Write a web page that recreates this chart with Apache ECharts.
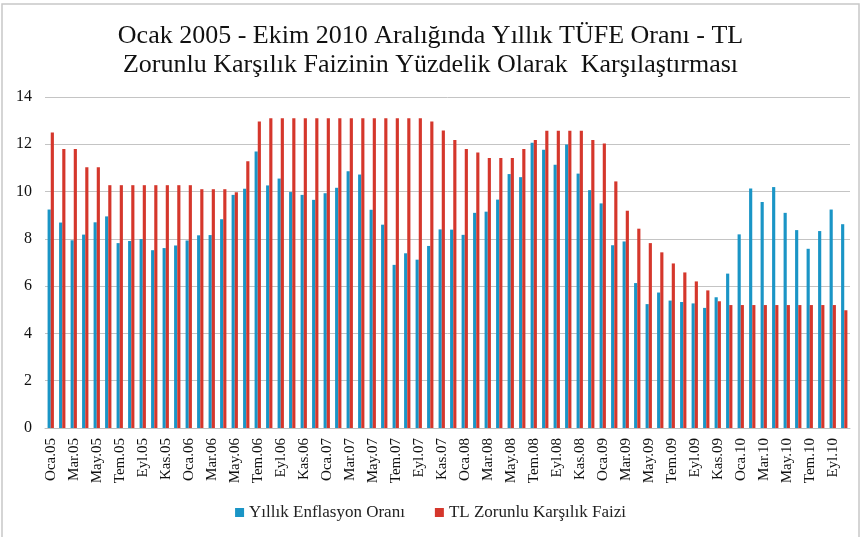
<!DOCTYPE html>
<html>
<head>
<meta charset="utf-8">
<script src="https://cdn.jsdelivr.net/npm/echarts@6/dist/echarts.min.js"></script>
<style>
  html, body { margin: 0; padding: 0; background: #ffffff; }
  #chart { width: 861px; height: 537px; }
</style>
</head>
<body>
<div id="chart"></div>
<script>
const monthNames = ['Oca', 'Şub', 'Mar', 'Nis', 'May', 'Haz', 'Tem', 'Ağu', 'Eyl', 'Eki', 'Kas', 'Ara'];
const years = ['05', '06', '07', '08', '09', '10'];

// Oca.05 - Eki.10 (70 ay)
const months = [];
years.forEach(y => {
  monthNames.forEach(m => {
    if (months.length < 70) months.push(m + '.' + y);
  });
});

// yıllık TÜFE (%)
const inflation = [
  9.24, 8.69, 7.94, 8.18, 8.70, 8.95, 7.82, 7.91, 7.99, 7.52, 7.61, 7.72,
  7.93, 8.15, 8.16, 8.83, 9.86, 10.12, 11.69, 10.26, 10.55, 9.98, 9.86, 9.65,
  9.93, 10.16, 10.86, 10.72, 9.23, 8.60, 6.90, 7.39, 7.12, 7.70, 8.40, 8.39,
  8.17, 9.10, 9.15, 9.66, 10.74, 10.61, 12.06, 11.77, 11.13, 11.99, 10.76, 10.06,
  9.50, 7.73, 7.89, 6.13, 5.24, 5.73, 5.39, 5.33, 5.27, 5.08, 5.53, 6.53,
  8.19, 10.13, 9.56, 10.19, 9.10, 8.37, 7.58, 8.33, 9.24, 8.62
];

// TL zorunlu karşılık faizi (%)
const reserveRate = [
  12.5, 11.8, 11.8, 11.03, 11.03, 10.27, 10.27, 10.27, 10.27, 10.27, 10.27, 10.27,
  10.27, 10.1, 10.1, 10.1, 9.97, 11.28, 12.96, 13.1, 13.1, 13.1, 13.1, 13.1,
  13.1, 13.1, 13.1, 13.1, 13.1, 13.1, 13.1, 13.1, 13.1, 12.96, 12.58, 12.18,
  11.8, 11.65, 11.42, 11.42, 11.42, 11.8, 12.18, 12.57, 12.57, 12.57, 12.57, 12.18,
  12.03, 10.43, 9.19, 8.43, 7.82, 7.43, 6.96, 6.58, 6.2, 5.82, 5.36, 5.2,
  5.2, 5.2, 5.2, 5.2, 5.2, 5.2, 5.2, 5.2, 5.2, 4.98
];

const chart = echarts.init(document.getElementById('chart'));
const serif = '"Liberation Serif", "DejaVu Serif", serif';

chart.setOption({
  backgroundColor: '#ffffff',
  animation: false,
  title: {
    text: 'Ocak 2005 - Ekim 2010 Aralığında Yıllık TÜFE Oranı - TL\nZorunlu Karşılık Faizinin Yüzdelik Olarak  Karşılaştırması',
    left: 'center',
    top: 17,
    textStyle: {
      fontFamily: serif,
      fontSize: 26,
      fontWeight: 'normal',
      color: '#111111',
      lineHeight: 29
    }
  },
  legend: {
    bottom: 11,
    left: 'center',
    itemWidth: 9,
    itemHeight: 9,
    itemGap: 30,
    icon: 'rect',
    textStyle: { fontFamily: serif, fontSize: 17, color: '#222222' },
    data: ['Yıllık Enflasyon Oranı', 'TL Zorunlu Karşılık Faizi']
  },
  grid: { left: 45, right: 11, top: 97, bottom: 109 },
  xAxis: {
    type: 'category',
    data: months,
    axisLine: { lineStyle: { color: '#bfbfbf' } },
    axisTick: { interval: 1, lineStyle: { color: '#bfbfbf' } },
    axisLabel: {
      interval: 1,
      rotate: 90,
      fontFamily: serif,
      fontSize: 15,
      color: '#111111',
      margin: 10
    }
  },
  yAxis: {
    type: 'value',
    min: 0,
    max: 14,
    interval: 2,
    axisLine: { show: false },
    axisTick: { show: false },
    axisLabel: { fontFamily: serif, fontSize: 16, color: '#111111', margin: 13 },
    splitLine: { lineStyle: { color: '#c4c4c4' } }
  },
  series: [
    {
      name: 'Yıllık Enflasyon Oranı',
      type: 'bar',
      data: inflation,
      barGap: '0%',
      barCategoryGap: '45%',
      itemStyle: { color: '#1a95c6' }
    },
    {
      name: 'TL Zorunlu Karşılık Faizi',
      type: 'bar',
      data: reserveRate,
      itemStyle: { color: '#d5372c' }
    }
  ],
  graphic: [{
    type: 'rect',
    shape: { x: 2, y: 4, width: 857, height: 540 },
    style: { fill: 'none', stroke: '#c8c8c8', lineWidth: 1.5 },
    silent: true
  }]
});
</script>
</body>
</html>
